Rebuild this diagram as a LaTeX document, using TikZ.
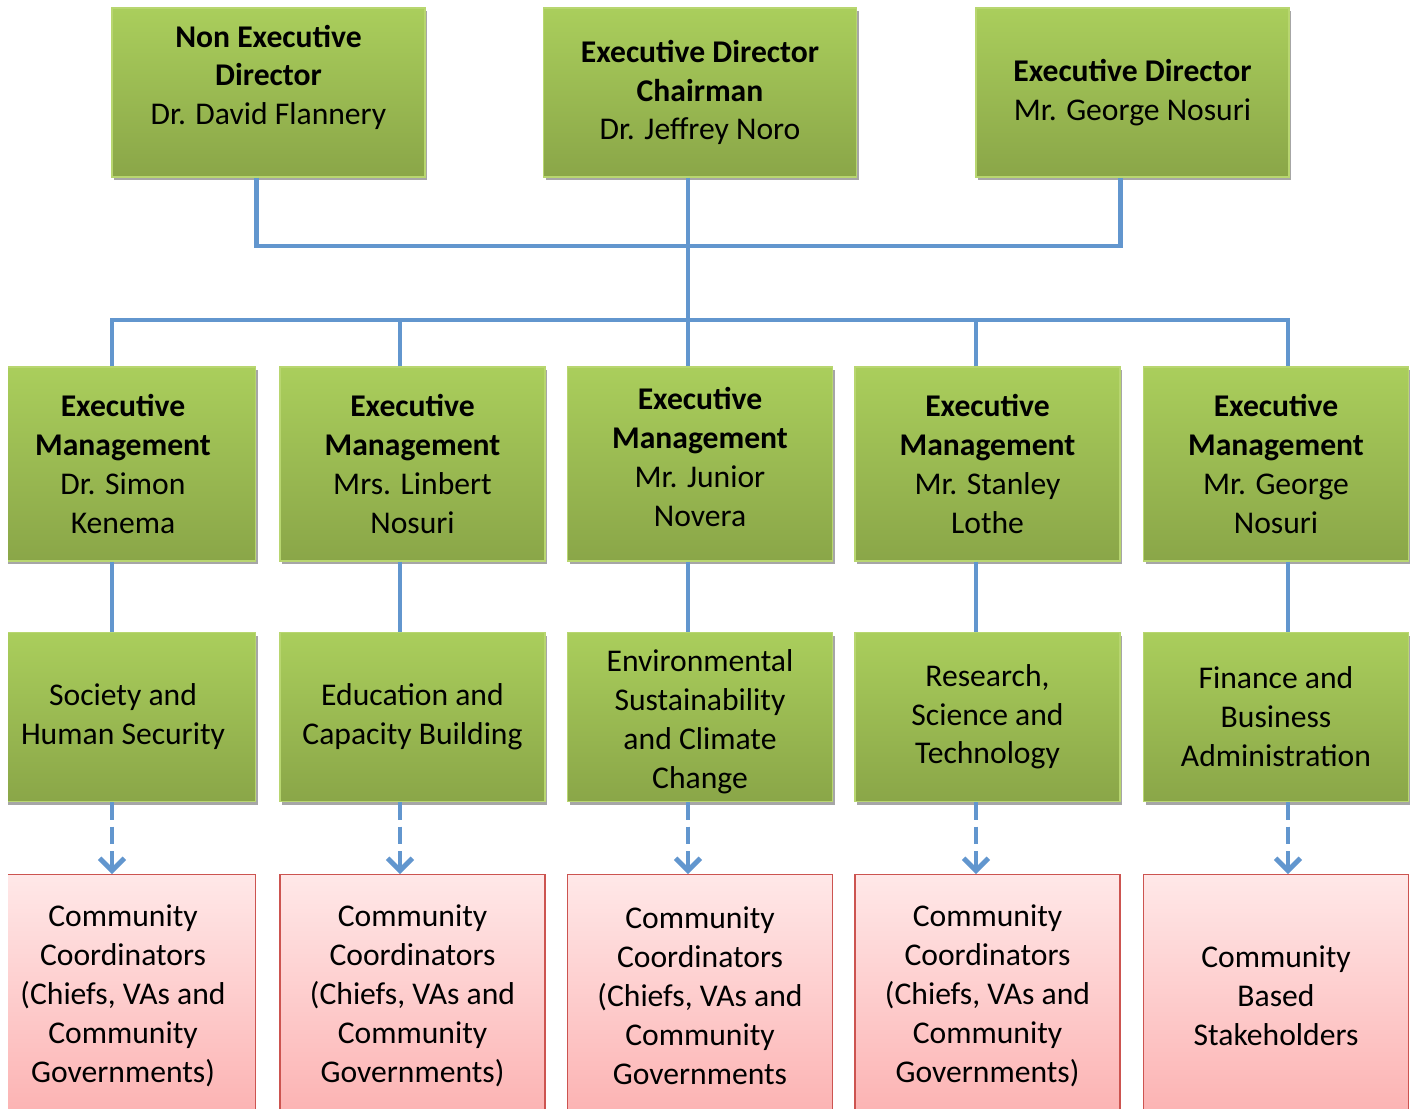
\documentclass[tikz,border=0pt]{standalone}
\usepackage{fontspec}
\setmainfont{Carlito}
\usetikzlibrary{positioning,shadows,arrows.meta}

\definecolor{greentop}{RGB}{170,206,92}
\definecolor{greenbot}{RGB}{138,166,72}
\definecolor{greenline}{RGB}{184,214,112}
\definecolor{pinktop}{RGB}{255,232,232}
\definecolor{pinkbot}{RGB}{252,178,178}
\definecolor{redline}{RGB}{204,84,80}
\definecolor{linkblue}{RGB}{98,150,206}

\begin{document}
\begin{tikzpicture}[
        x=0.02cm, y=-0.02cm,
        node distance=1.4cm and .44cm,
        every node/.style={align=center, font=\fontsize{18}{22.1}\selectfont},
        board/.style={draw=greenline, line width=.8pt, top color=greentop, bottom color=greenbot,
            minimum width=6.26cm, minimum height=3.38cm,
            drop shadow={shadow xshift=1.2pt, shadow yshift=-1.8pt, opacity=.35, fill=black}},
        manager/.style={board, minimum width=5.3cm, minimum height=3.88cm},
        division/.style={board, minimum width=5.3cm, minimum height=3.38cm},
        community/.style={draw=redline, line width=.8pt, top color=pinktop, bottom color=pinkbot,
            minimum width=5.3cm, minimum height=4.84cm},
        link/.style={draw=linkblue, line width=2.8pt},
        feed/.style={link, dash pattern=on 10pt off 4pt, -{Straight Barb[length=7pt,width=14pt]}}
    ]

  \useasboundingbox (0,0) rectangle (1410,1109);

  % Board
  \node[board] (nonexec) at (268.5,92.5) {\textbf{Non Executive}\\\textbf{Director}\\Dr. David Flannery\\[-2pt]\mbox{}};
  \node[board] (chair) at (700,92.5) {\textbf{Executive Director}\\\textbf{Chairman}\\Dr. Jeffrey Noro};
  \node[board] (execdir) at (1132.5,92.5) {\textbf{Executive Director}\\Mr. George Nosuri};

  % Executive management
  \node[manager] (kenema) at (123,464) {\textbf{Executive}\\\textbf{Management}\\Dr. Simon\\Kenema};
  \node[manager] (linbert) at (412.5,464) {\textbf{Executive}\\\textbf{Management}\\Mrs. Linbert\\Nosuri};
  \node[manager] (novera) at (700,464) {\textbf{Executive}\\\textbf{Management}\\Mr. Junior\\Novera\\[-14pt]\mbox{}};
  \node[manager] (lothe) at (987.5,464) {\textbf{Executive}\\\textbf{Management}\\Mr. Stanley\\Lothe};
  \node[manager] (gnosuri) at (1276,464) {\textbf{Executive}\\\textbf{Management}\\Mr. George\\Nosuri};

  % Divisions
  \node[division] (society) [below=of kenema] {Society and\\Human Security};
  \node[division] (education) [below=of linbert] {Education and\\Capacity Building};
  \node[division] (environment) [below=of novera] {\mbox{}\\[-4pt]Environmental\\Sustainability\\and Climate\\Change};
  \node[division] (research) [below=of lothe] {Research,\\Science and\\Technology};
  \node[division] (finance) [below=of gnosuri] {Finance and\\Business\\Administration};

  % Communities
  \node[community] (ccsociety) [below=1.44cm of society] {Community\\Coordinators\\(Chiefs, VAs and\\Community\\Governments)};
  \node[community] (cceducation) [below=1.44cm of education] {Community\\Coordinators\\(Chiefs, VAs and\\Community\\Governments)};
  \node[community] (ccenvironment) [below=1.44cm of environment] {Community\\Coordinators\\(Chiefs, VAs and\\Community\\Governments};
  \node[community] (ccresearch) [below=1.44cm of research] {Community\\Coordinators\\(Chiefs, VAs and\\Community\\Governments)};
  \node[community] (ccfinance) [below=1.44cm of finance] {Community\\Based\\Stakeholders};

  \coordinate (topbus) at (688,246);
  \coordinate (midbus) at (688,320);

  % Connectors
  \draw[link] ([xshift=-.24cm]nonexec.south) |- (topbus) -| ([xshift=-.24cm]execdir.south);
  \draw[link] ([xshift=-.24cm]chair.south) -- ([xshift=-.24cm]novera.north);
  \draw[link] ([xshift=-.22cm]kenema.north) |- (midbus) -| ([xshift=.24cm]gnosuri.north);
  \draw[link] ([xshift=-.25cm]linbert.north) |- (midbus);
  \draw[link] ([xshift=-.23cm]lothe.north) |- (midbus);

  \draw[link] ([xshift=-.22cm]kenema.south) -- ([xshift=-.22cm]society.north);
  \draw[link] ([xshift=-.25cm]linbert.south) -- ([xshift=-.25cm]education.north);
  \draw[link] ([xshift=-.24cm]novera.south) -- ([xshift=-.24cm]environment.north);
  \draw[link] ([xshift=-.23cm]lothe.south) -- ([xshift=-.23cm]research.north);
  \draw[link] ([xshift=.24cm]gnosuri.south) -- ([xshift=.24cm]finance.north);

  \draw[feed] ([xshift=-.22cm]society.south) -- ([xshift=-.22cm]ccsociety.north);
  \draw[feed] ([xshift=-.25cm]education.south) -- ([xshift=-.25cm]cceducation.north);
  \draw[feed] ([xshift=-.24cm]environment.south) -- ([xshift=-.24cm]ccenvironment.north);
  \draw[feed] ([xshift=-.23cm]research.south) -- ([xshift=-.23cm]ccresearch.north);
  \draw[feed] ([xshift=.24cm]finance.south) -- ([xshift=.24cm]ccfinance.north);

  % left margin
  \fill[white] (0,0) rectangle (8,1109);
\end{tikzpicture}
\end{document}
